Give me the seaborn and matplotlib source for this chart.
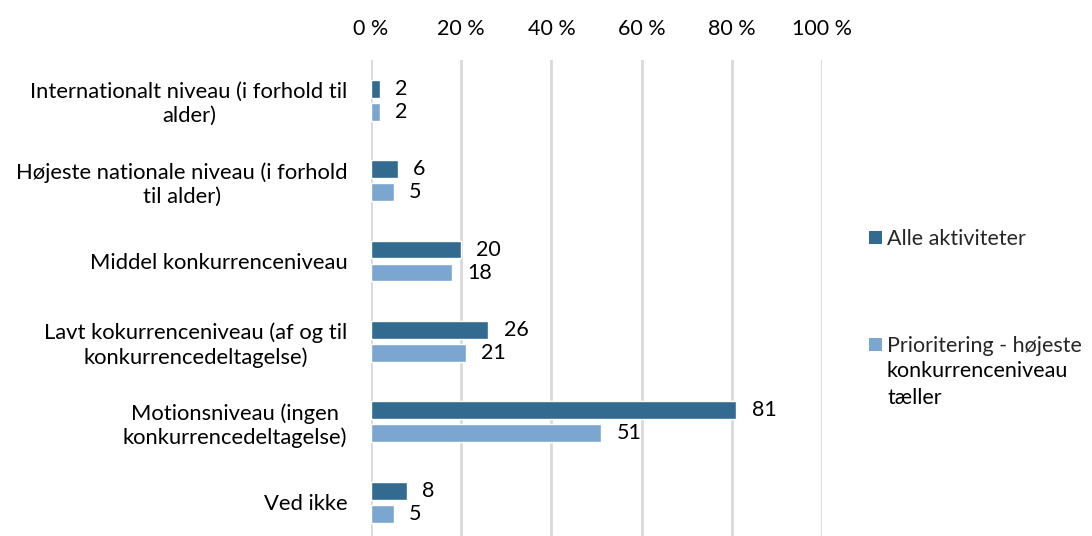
import matplotlib
matplotlib.use("Agg")
import matplotlib.pyplot as plt
import seaborn as sns
import pandas as pd
from matplotlib.patches import Patch

categories = [
    "Internationalt niveau (i forhold til\nalder)",
    "Højeste nationale niveau (i forhold\ntil alder)",
    "Middel konkurrenceniveau",
    "Lavt kokurrenceniveau (af og til\nkonkurrencedeltagelse)",
    "Motionsniveau (ingen\nkonkurrencedeltagelse)",
    "Ved ikke",
]
series_names = ["Alle aktiviteter", "Prioritering - højeste konkurrenceniveau tæller"]
legend_lines = [["Alle aktiviteter"],
                ["Prioritering - højeste", "konkurrenceniveau", "tæller"]]
alle = [2, 6, 20, 26, 81, 8]
prioritering = [2, 5, 18, 21, 51, 5]
x_ticks = [0, 20, 40, 60, 80, 100]
x_tick_labels = ["0 %", "20 %", "40 %", "60 %", "80 %", "100 %"]

colors = ["#336A90", "#7BA6D0"]
FS = 15.5

df = pd.DataFrame({
    "kategori": categories * 2,
    "serie": [series_names[0]] * len(categories) + [series_names[1]] * len(categories),
    "værdi": alle + prioritering,
})

sns.set_theme(style="white")
plt.rcParams["font.family"] = ["Lato", "DejaVu Sans"]

fig = plt.figure(figsize=(10.92, 5.36), dpi=100)
ax = fig.add_axes([371 / 1092, 0, (822 - 371) / 1092, 1 - 60 / 536])

sns.barplot(data=df, y="kategori", x="værdi", hue="serie", order=categories,
            hue_order=series_names, palette=colors, orient="h",
            width=0.572, gap=0.22, ax=ax, legend=False, saturation=1)

ax.set_xlim(0, 100)
ax.set_ylim(5.42, -0.5)
ax.set_xticks(x_ticks)
ax.set_xticklabels(x_tick_labels, fontsize=FS, color="#000000")
ax.xaxis.tick_top()
ax.tick_params(axis="x", length=0, pad=15)
ax.tick_params(axis="y", length=0, pad=17)
ax.set_yticks(range(len(categories)))
ax.set_yticklabels(categories, fontsize=FS + 0.3, color="#000000",
                   multialignment="center", linespacing=1.22)
ax.set_xlabel("")
ax.set_ylabel("")
ax.grid(axis="x", color="#D9D9D9", linewidth=2)
ax.set_axisbelow(True)
for s in ax.spines.values():
    s.set_visible(False)

for container in ax.containers:
    ax.bar_label(container, fmt="%g", padding=11, fontsize=FS, color="#000000")

# Legend: one entry per series, handle aligned with the first text line
entry_tops = [229, 336]
for color, lines, top in zip(colors, legend_lines, entry_tops):
    leg = fig.legend(handles=[Patch(facecolor=color, edgecolor="none")],
                     labels=[lines[0]], loc="upper left",
                     bbox_to_anchor=(869 / 1092, 1 - top / 536),
                     frameon=False, fontsize=FS, handlelength=0.6,
                     handleheight=0.6, handletextpad=0.22,
                     borderpad=0, borderaxespad=0)
    if len(lines) > 1:
        fig.text(887 / 1092, 1 - (top + 25) / 536, "\n".join(lines[1:]),
                 fontsize=FS, va="top", ha="left", linespacing=1.45,
                 color="#000000")

fig.savefig("out.png", dpi=100)
